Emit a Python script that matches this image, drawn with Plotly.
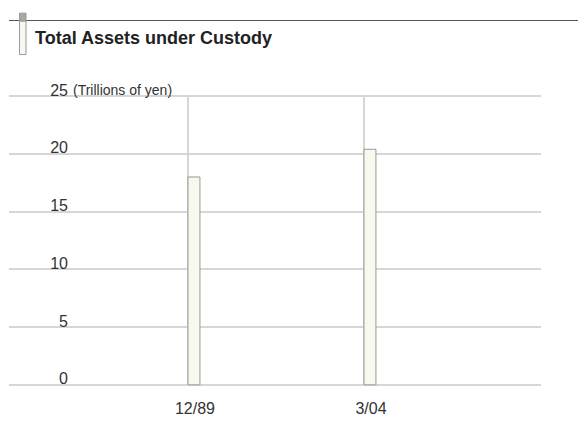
import plotly.graph_objects as go

categories = ["12/89", "3/04"]
values = [18.0, 20.4]
positions = [1, 2]
y_ticks = [0, 5, 10, 15, 20, 25]
y_ticktext = ["0", "5", "10", "15", "20", "25"]
unit_label = "(Trillions of yen)"
title_text = "Total Assets under Custody"

W, H = 578, 426
L, R, T, B = 9, 37, 95, 36
pw, ph = W - L - R, H - T - B


def px(x):
    return (x - L) / pw


def py(y):
    return (H - B - y) / ph


fig = go.Figure()
fig.add_trace(go.Bar(
    x=positions, y=values, width=0.068, offset=0,
    marker=dict(color="#f8f8ee", line=dict(color="#999999", width=1)),
    hoverinfo="skip",
))

fig.update_layout(
    width=W, height=H,
    margin=dict(l=L, r=R, t=T, b=B),
    paper_bgcolor="white", plot_bgcolor="white",
    showlegend=False,
    font=dict(family="Liberation Sans, Arial, sans-serif", size=15, color="#333333"),
    xaxis=dict(
        range=[-0.017, 3.006], tickvals=positions, ticktext=categories,
        showgrid=True, gridcolor="#d6d6d6", gridwidth=1.5,
        zeroline=False, showline=False, ticks="", ticklabelshift=7,
        ticklabelstandoff=11, tickfont=dict(size=16, color="#333333"),
        fixedrange=True,
    ),
    yaxis=dict(
        range=[-0.1, 25.1], tickvals=y_ticks, ticktext=y_ticktext,
        showgrid=True, gridcolor="#d6d6d6", gridwidth=1.5,
        zeroline=False, showline=False, ticks="",
        anchor="free", position=px(68), ticklabelshift=-6,
        tickfont=dict(size=16, color="#333333"),
        fixedrange=True,
    ),
    annotations=[
        dict(text=unit_label, x=px(71), y=25, xref="paper", yref="y",
             xanchor="left", yanchor="middle", showarrow=False,
             font=dict(size=14, color="#333333"), yshift=6),
        dict(text="<b>" + title_text + "</b>", x=px(33), y=py(37),
             xref="paper", yref="paper", xanchor="left", yanchor="middle",
             showarrow=False, font=dict(size=18, color="#222222")),
    ],
    shapes=[
        dict(type="line", xref="paper", yref="paper",
             x0=px(9), x1=px(578), y0=py(19.5), y1=py(19.5),
             line=dict(color="#555555", width=1)),
        dict(type="rect", xref="paper", yref="paper",
             x0=px(19.5), x1=px(26), y0=py(54), y1=py(20),
             fillcolor="#f8f8ee", line=dict(color="#999999", width=1)),
        dict(type="rect", xref="paper", yref="paper",
             x0=px(19.5), x1=px(26), y0=py(20), y1=py(12),
             fillcolor="#a8a8a8", line=dict(color="#999999", width=1)),
    ],
)

fig.write_html("out.html")
